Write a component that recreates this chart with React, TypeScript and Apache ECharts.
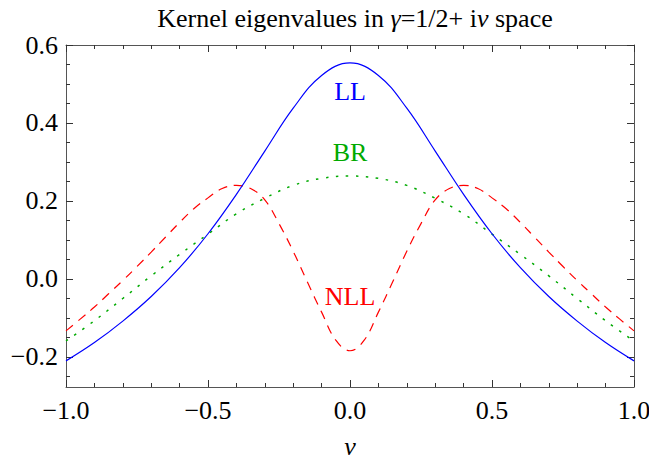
import React, { useEffect, useRef } from "react";
import * as echarts from "echarts";

const nuCoarse = [-1, -0.9, -0.8, -0.7, -0.6, -0.5, -0.4, -0.3, -0.2, -0.1, 0, 0.1, 0.2, 0.3, 0.4, 0.5, 0.6, 0.7, 0.8, 0.9, 1];
const llValues = [-0.210, -0.163, -0.108, -0.045, 0.029, 0.116, 0.217, 0.328, 0.438, 0.522, 0.554, 0.522, 0.438, 0.328, 0.217, 0.116, 0.029, -0.045, -0.108, -0.163, -0.210];
const brValues = [-0.159, -0.107, -0.050, 0.008, 0.063, 0.115, 0.167, 0.207, 0.240, 0.258, 0.264, 0.258, 0.240, 0.207, 0.167, 0.115, 0.063, 0.008, -0.050, -0.107, -0.159];

const nuFine = [-1, -0.95, -0.9, -0.85, -0.8, -0.75, -0.7, -0.65, -0.6, -0.55, -0.5, -0.45, -0.4, -0.35, -0.3, -0.25, -0.2, -0.15, -0.1, -0.05, 0, 0.05, 0.1, 0.15, 0.2, 0.25, 0.3, 0.35, 0.4, 0.45, 0.5, 0.55, 0.6, 0.65, 0.7, 0.75, 0.8, 0.85, 0.9, 0.95, 1];
const nllValues = [-0.133, -0.103, -0.072, -0.038, -0.004, 0.032, 0.069, 0.107, 0.145, 0.180, 0.208, 0.232, 0.240, 0.232, 0.203, 0.142, 0.071, -0.008, -0.085, -0.157, -0.184, -0.157, -0.085, -0.008, 0.071, 0.142, 0.203, 0.232, 0.240, 0.232, 0.208, 0.180, 0.145, 0.107, 0.069, 0.032, -0.004, -0.038, -0.072, -0.103, -0.133];

const yMajorTicks = [-0.2, 0, 0.2, 0.4, 0.6];
const yMinorTicks = [-0.25, -0.15, -0.1, -0.05, 0.05, 0.1, 0.15, 0.25, 0.3, 0.35, 0.45, 0.5, 0.55];
const yMin = -0.277;
const yMax = 0.6;

const seriesLabels = [
  { name: "LL", nu: 0, value: 0.48 },
  { name: "BR", nu: 0, value: 0.325 },
  { name: "NLL", nu: 0, value: -0.044 },
];

const FONT = "'Liberation Serif', 'Times New Roman', serif";
const FS = 26;
const FRAME = "#555555";
const TICK = "#333333";

const fmt = (v: number) => {
  const s = Math.abs(v).toFixed(1);
  return v < -1e-9 ? "\u2212" + s : s;
};

export default function App() {
  const ref = useRef<HTMLDivElement>(null);
  useEffect(() => {
    document.body.style.margin = "0";
    if (!ref.current) return;
    const chart = echarts.init(ref.current, undefined, { renderer: "svg" });
    const labelStyle = { fontFamily: FONT, fontSize: FS, color: "#000" };
    const pair = (xs: number[], ys: number[]) => xs.map((x, i) => [x, ys[i]]);
    const markFor = (idx: number, color: string) => ({
      symbol: "circle",
      symbolSize: 1,
      itemStyle: { color: "transparent" },
      label: { show: true, position: "inside", formatter: seriesLabels[idx].name, color, fontFamily: FONT, fontSize: FS },
      data: [{ coord: [seriesLabels[idx].nu, seriesLabels[idx].value] }],
    });
    const xBase = {
      type: "value",
      min: -1,
      max: 1,
      interval: 0.5,
      splitLine: { show: false },
      axisLine: { show: true, onZero: false, lineStyle: { color: FRAME, width: 1 } },
      axisTick: { show: true, inside: true, length: 7, lineStyle: { color: TICK } },
      minorTick: { show: true, splitNumber: 5, length: 4, lineStyle: { color: TICK } },
    };
    const yBase = (position: string, ticks: number[], len: number, showLine: boolean, showLabel: boolean) => ({
      type: "value",
      min: yMin,
      max: yMax,
      position,
      splitLine: { show: false },
      axisLine: { show: showLine, onZero: false, lineStyle: { color: FRAME, width: 1 } },
      axisTick: { show: true, inside: true, length: len, customValues: ticks, lineStyle: { color: TICK } },
      axisLabel: showLabel
        ? { show: true, customValues: ticks, formatter: (v: number) => fmt(v), margin: 8, ...labelStyle }
        : { show: false },
    });
    chart.setOption({
      animation: false,
      backgroundColor: "#fff",
      title: {
        text: "Kernel eigenvalues in {i|γ}=1/2+ i{i|ν} space",
        left: 350,
        textAlign: "center",
        top: 0,
        textStyle: {
          fontFamily: FONT,
          fontSize: FS,
          fontWeight: "normal",
          color: "#000",
          rich: { i: { fontFamily: FONT, fontSize: FS, fontStyle: "italic", color: "#000" } },
        },
      },
      grid: { left: 66, right: 15, top: 45, bottom: 76, outerBoundsMode: "none" },
      xAxis: [
        {
          ...xBase,
          position: "bottom",
          axisLabel: { show: true, formatter: (v: number) => fmt(v), margin: 10, alignMinLabel: "center", alignMaxLabel: "center", ...labelStyle },
          name: "ν",
          nameLocation: "middle",
          nameGap: 46,
          nameTextStyle: { fontFamily: FONT, fontSize: FS, fontStyle: "italic", color: "#000" },
        },
        { ...xBase, position: "top", axisLabel: { show: false } },
      ],
      yAxis: [
        yBase("left", yMajorTicks, 7, true, true),
        yBase("left", yMinorTicks, 4, false, false),
        yBase("right", yMajorTicks, 7, true, false),
        yBase("right", yMinorTicks, 4, false, false),
      ],
      series: [
        {
          type: "line",
          name: "NLL",
          data: pair(nuFine, nllValues),
          showSymbol: false,
          smooth: 0.4,
          lineStyle: { color: "#ff0000", width: 1.2, type: [9, 7] },
          markPoint: markFor(2, "#ff0000"),
        },
        {
          type: "line",
          name: "BR",
          data: pair(nuCoarse, brValues),
          showSymbol: false,
          smooth: 0.4,
          lineStyle: { color: "#00aa00", width: 1.5, type: [2.5, 7.5] },
          markPoint: markFor(1, "#00aa00"),
        },
        {
          type: "line",
          name: "LL",
          data: pair(nuCoarse, llValues),
          showSymbol: false,
          smooth: 0.4,
          lineStyle: { color: "#0000ff", width: 1.2 },
          markPoint: markFor(0, "#0000ff"),
        },
      ],
    });
    return () => chart.dispose();
  }, []);
  return <div ref={ref} style={{ width: 649, height: 463 }} />;
}
